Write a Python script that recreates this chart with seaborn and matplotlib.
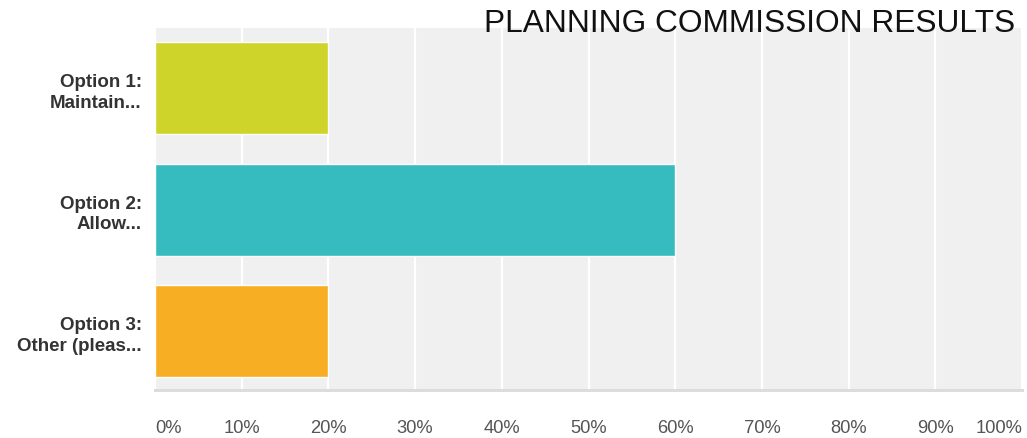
import matplotlib
matplotlib.use("Agg")
import matplotlib.pyplot as plt
import seaborn as sns
import pandas as pd

# Survey results
categories = ["Option 1:\nMaintain...", "Option 2:\nAllow...", "Option 3:\nOther (pleas..."]
percentages = [20, 60, 20]
bar_colors = ["#cfd42a", "#36bcbe", "#f8ae22"]
tick_values = [0, 10, 20, 30, 40, 50, 60, 70, 80, 90, 100]
tick_labels = [f"{v}%" for v in tick_values]
title = "PLANNING COMMISSION RESULTS"

df = pd.DataFrame({"option": categories, "pct": percentages})

sns.set_theme(style="white")
plt.rcParams["font.family"] = ["Liberation Sans", "DejaVu Sans"]

fig = plt.figure(figsize=(10.27, 4.39), dpi=100)
ax = fig.add_axes([155 / 1027, 1 - 391 / 439, 867 / 1027, 362 / 439])
ax.set_facecolor("#f0f0f0")

sns.barplot(
    data=df, x="pct", y="option", hue="option",
    palette=bar_colors, orient="h", width=0.757,
    saturation=1, legend=False, ax=ax, zorder=3,
)

ax.set_xlim(0, 100)
ax.set_ylim(2.485, -0.494)
ax.set_xticks(tick_values)
ax.set_xticklabels(tick_labels)
ax.set_xlabel("")
ax.set_ylabel("")

# white vertical gridlines
ax.set_axisbelow(True)
ax.xaxis.grid(True, color="white", linewidth=1.6)
ax.yaxis.grid(False)

for side in ["top", "right", "left"]:
    ax.spines[side].set_visible(False)
ax.spines["bottom"].set_color("#dcdcdc")
ax.spines["bottom"].set_linewidth(2.2)

ax.tick_params(axis="x", length=0, pad=21, labelsize=13.2, labelcolor="#555555")
ax.tick_params(axis="y", length=0, pad=9.5, labelsize=13.5, labelcolor="#333333")

for lbl in ax.get_yticklabels():
    lbl.set_fontweight("bold")
    lbl.set_multialignment("right")
    lbl.set_linespacing(1.3)

xlbls = ax.get_xticklabels()
xlbls[0].set_horizontalalignment("left")
xlbls[-1].set_horizontalalignment("right")

fig.text(1015 / 1027, 1 - 32 / 439, title, ha="right", va="baseline",
         fontsize=22.8, color="#111111")

fig.savefig("out.png", dpi=100, facecolor="white")
